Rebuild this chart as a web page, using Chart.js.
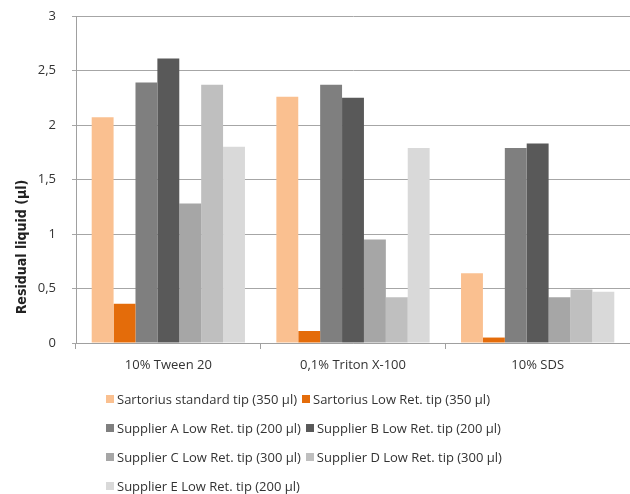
<!DOCTYPE html>
<html>
<head>
<meta charset="utf-8">
<script src="https://cdn.jsdelivr.net/npm/chart.js@4"></script>
<style>
  html, body { margin: 0; padding: 0; background: #fff; }
  #wrap { position: relative; width: 630px; height: 494px; }
  #legend {
    position: absolute; left: 106px; top: 384px; width: 420px;
    display: flex; flex-wrap: wrap; column-gap: 5px;
    font-family: "Open Sans", sans-serif; font-size: 13px; color: #333;
  }
  #legend .item { display: flex; align-items: center; height: 29px; white-space: nowrap; }
  #legend .box { width: 8px; height: 8px; margin-right: 3px; }
</style>
</head>
<body>
<div id="wrap">
  <canvas id="residualChart" width="630" height="494"></canvas>
  <div id="legend"></div>
</div>
<script>
// data
var categories = ['10% Tween 20', '0,1% Triton X-100', '10% SDS'];
var seriesNames = [
    'Sartorius standard tip (350 µl)',
    'Sartorius Low  Ret. tip (350 µl)',
    'Supplier A Low Ret. tip (200 µl)',
    'Supplier B Low  Ret. tip (200 µl)',
    'Supplier C Low  Ret. tip (300 µl)',
    'Supplier D Low  Ret. tip (300 µl)',
    'Supplier E Low  Ret. tip (200 µl)'
];
var sartoriusStandard = [2.07, 2.26, 0.64];
var sartoriusLowRet = [0.36, 0.11, 0.05];
var supplierA = [2.39, 2.37, 1.79];
var supplierB = [2.61, 2.25, 1.83];
var supplierC = [1.28, 0.95, 0.42];
var supplierD = [2.37, 0.42, 0.49];
var supplierE = [1.80, 1.79, 0.47];
var yTickLabels = ['0', '0,5', '1', '1,5', '2', '2,5', '3'];
var yTitle = 'Residual liquid (µl)';

var seriesValues = [sartoriusStandard, sartoriusLowRet, supplierA, supplierB, supplierC, supplierD, supplierE];
var seriesColors = ['#FAC090', '#E46C0A', '#7F7F7F', '#595959', '#A6A6A6', '#BFBFBF', '#D9D9D9'];

var datasets = seriesValues.map(function (vals, i) {
    return {
        label: seriesNames[i],
        data: vals,
        backgroundColor: seriesColors[i],
        borderWidth: 0,
        barPercentage: 1.0,
        categoryPercentage: 0.83
    };
});

// y axis title sits lower than centre in the original, so draw it ourselves
var yTitlePlugin = {
    id: 'yTitle',
    afterDraw: function (chart) {
        var c = chart.ctx, area = chart.chartArea;
        c.save();
        c.translate(22, area.bottom - 96);
        c.rotate(-Math.PI / 2);
        c.textAlign = 'center';
        c.textBaseline = 'middle';
        c.fillStyle = '#222';
        c.font = 'bold 14px "Liberation Sans Narrow", "DejaVu Sans Condensed", sans-serif';
        c.fillText(yTitle, 0, 0);
        c.restore();
    }
};

var ctx = document.getElementById('residualChart').getContext('2d');
var residualChart = new Chart(ctx, {
    type: 'bar',
    data: { labels: categories, datasets: datasets },
    options: {
        responsive: false,
        animation: false,
        layout: { padding: { top: 16, right: 0, left: 10, bottom: 118 } },
        plugins: {
            legend: { display: false },
            tooltip: { enabled: false }
        },
        scales: {
            x: {
                offset: true,
                grid: {
                    offset: true,
                    drawOnChartArea: false,
                    tickLength: 6,
                    color: '#A0A0A0'
                },
                border: { color: '#A0A0A0' },
                ticks: {
                    color: '#333',
                    padding: 8,
                    font: { family: 'Open Sans', size: 13 }
                },
                afterFit: function (scale) { scale.height = 33; }
            },
            y: {
                min: 0,
                max: 3,
                ticks: {
                    stepSize: 0.5,
                    color: '#333',
                    padding: 16,
                    font: { family: 'Open Sans', size: 13 },
                    callback: function (value) {
                        return yTickLabels[Math.round(value / 0.5)];
                    }
                },
                grid: { color: '#A6A6A6', tickLength: 4 },
                border: { color: '#A0A0A0' },
                afterFit: function (scale) {
                    scale.width = 66;
                    // the big tick padding should not push the plot down
                    scale.paddingTop = 0;
                    scale.paddingBottom = 0;
                }
            }
        }
    },
    plugins: [yTitlePlugin]
});

// legend built from the chart's datasets
var legendEl = document.getElementById('legend');
residualChart.data.datasets.forEach(function (ds) {
    var item = document.createElement('div');
    item.className = 'item';
    var box = document.createElement('span');
    box.className = 'box';
    box.style.background = ds.backgroundColor;
    var txt = document.createElement('span');
    txt.textContent = ds.label;
    item.appendChild(box);
    item.appendChild(txt);
    legendEl.appendChild(item);
});
</script>
</body>
</html>
